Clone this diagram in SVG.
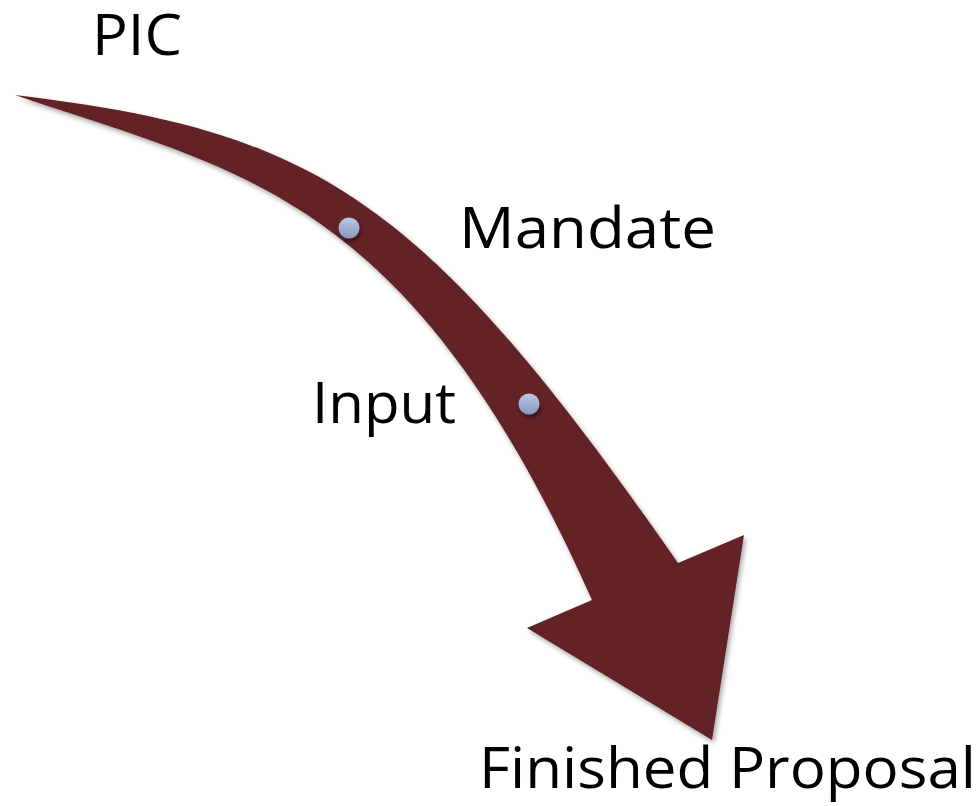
<svg xmlns="http://www.w3.org/2000/svg" width="978" height="806" viewBox="0 0 978 806">
<defs>
<filter id="sh" x="-10%" y="-10%" width="130%" height="130%">
<feDropShadow dx="2" dy="3" stdDeviation="2.5" flood-color="#000" flood-opacity="0.35"/>
</filter>
<filter id="dsh" x="-50%" y="-50%" width="200%" height="200%">
<feDropShadow dx="1" dy="3" stdDeviation="2" flood-color="#000" flood-opacity="0.45"/>
</filter>
<linearGradient id="dg" x1="0" y1="0" x2="0" y2="1">
<stop offset="0" stop-color="#b9c8e4"/>
<stop offset="1" stop-color="#8797bd"/>
</linearGradient>
<style>
.lbl{font-family:"Open Sans","Liberation Sans",sans-serif;font-size:56px;fill:#000}
.dot{fill:url(#dg);filter:url(#dsh)}
</style>
</defs>
<g id="connectors">
<path id="arrow" d="M15,95 C315,131 421,194 678,563 L744,535 L712,740 L527,628 L592,600 C410,192 240,172 15,95 Z" fill="#632425" filter="url(#sh)"/>
</g>
<g id="node-pic"><text class="lbl" x="92" y="55" textLength="90" lengthAdjust="spacingAndGlyphs">PIC</text></g>
<g id="node-mandate"><circle class="dot" cx="349" cy="228" r="10.5"/><text class="lbl" x="459" y="248" textLength="257" lengthAdjust="spacingAndGlyphs">Mandate</text></g>
<g id="node-input"><circle class="dot" cx="529" cy="404" r="10.5"/><text class="lbl" x="312" y="423" textLength="144" lengthAdjust="spacingAndGlyphs">Input</text></g>
<g id="node-finished"><text class="lbl" x="479" y="788" textLength="497" lengthAdjust="spacingAndGlyphs">Finished Proposal</text></g>
</svg>
